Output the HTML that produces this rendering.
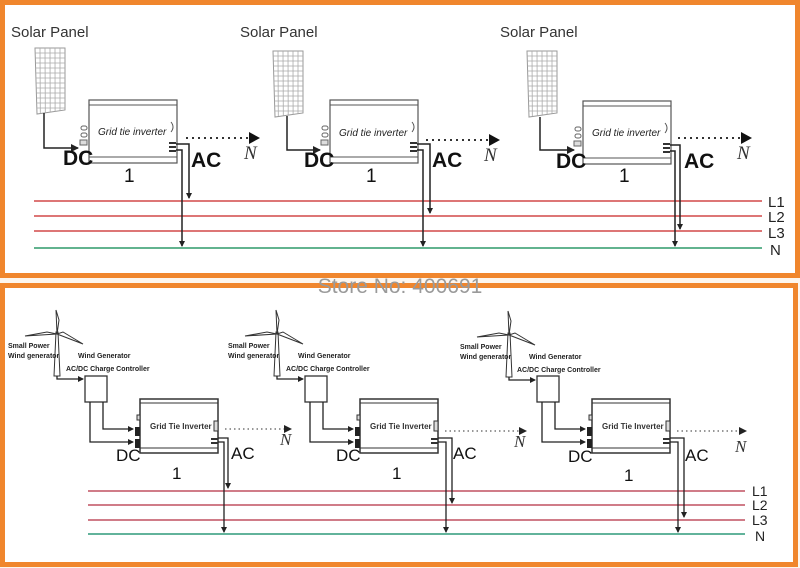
<!DOCTYPE html>
<html><head><meta charset="utf-8"><style>
html,body{margin:0;padding:0;background:#fff;}
svg{display:block;}
</style></head><body>
<svg width="800" height="568" viewBox="0 0 800 568" xmlns="http://www.w3.org/2000/svg" font-family="Liberation Sans, sans-serif">
<defs>
<marker id="ah" markerWidth="8" markerHeight="8" refX="7" refY="4" orient="auto" markerUnits="userSpaceOnUse"><path d="M0,0 L8,4 L0,8 z" fill="#222"/></marker>
<marker id="ahs" markerWidth="6" markerHeight="6" refX="5" refY="3" orient="auto" markerUnits="userSpaceOnUse"><path d="M0,0 L6,3 L0,6 z" fill="#222"/></marker>
<g id="panel">
  <path d="M0,0 L30,0 L30,62 L2,66 z" fill="#fff" stroke="#999" stroke-width="1"/>
  <g stroke="#aaa" stroke-width="0.8">
    <line x1="5" y1="0" x2="5.3" y2="65.3"/><line x1="10" y1="0" x2="10.3" y2="64.6"/><line x1="15" y1="0" x2="15.2" y2="63.9"/><line x1="20" y1="0" x2="20.1" y2="63.2"/><line x1="25" y1="0" x2="25" y2="62.6"/>
    <line x1="0.2" y1="5" x2="30" y2="5"/><line x1="0.3" y1="10" x2="30" y2="10"/><line x1="0.5" y1="15" x2="30" y2="15"/><line x1="0.6" y1="20" x2="30" y2="20"/><line x1="0.8" y1="25" x2="30" y2="25"/><line x1="0.9" y1="30" x2="30" y2="30"/><line x1="1" y1="35" x2="30" y2="35"/><line x1="1.1" y1="40" x2="30" y2="40"/><line x1="1.3" y1="45" x2="30" y2="45"/><line x1="1.4" y1="50" x2="30" y2="50"/><line x1="1.6" y1="55" x2="30" y2="55"/><line x1="1.8" y1="60" x2="30" y2="60"/>
  </g>
</g>
<g id="inv">
  <rect x="0" y="0" width="88" height="63" fill="#fff" stroke="#555" stroke-width="1.2"/>
  <line x1="0" y1="5" x2="88" y2="5" stroke="#555"/>
  <line x1="0" y1="57" x2="88" y2="57" stroke="#555"/>
  <path d="M82,22 q4,5 0,10" fill="none" stroke="#555"/>
  <rect x="-8" y="26" width="6" height="4" rx="2" fill="#fff" stroke="#666"/>
  <rect x="-8" y="33" width="6" height="4" rx="2" fill="#fff" stroke="#666"/>
  <rect x="-9" y="40" width="7" height="5" fill="#ddd" stroke="#666"/>
  <rect x="80" y="42" width="7" height="2" fill="#333"/><rect x="80" y="46" width="7" height="2" fill="#333"/><rect x="80" y="50" width="7" height="2" fill="#333"/>
</g>
<g id="turb">
  <path d="M-3,66 L-1,22 L1,22 L3,66 z" fill="#fff" stroke="#333"/>
  <path d="M0,24 L-1,0 L2,10 z" fill="#fff" stroke="#333"/>
  <path d="M0,24 L-32,26 L-10,22 z" fill="#fff" stroke="#333"/>
  <path d="M0,24 L26,34 L6,22 z" fill="#fff" stroke="#333"/>
</g>
<g id="winv">
  <rect x="0" y="0" width="78" height="54" fill="#fff" stroke="#333" stroke-width="1.5"/>
  <line x1="0" y1="4" x2="78" y2="4" stroke="#333"/>
  <line x1="0" y1="49" x2="78" y2="49" stroke="#333"/>
  <rect x="74" y="22" width="4" height="10" fill="#ddd" stroke="#333"/>
  <rect x="-3" y="16" width="3" height="5" fill="#ddd" stroke="#333"/>
  <rect x="-5" y="28" width="5" height="9" fill="#222"/>
  <rect x="-5" y="40" width="5" height="9" fill="#222"/>
  <rect x="71" y="39" width="7" height="2" fill="#333"/><rect x="71" y="43" width="7" height="2" fill="#333"/>
</g>
</defs>

<rect x="0" y="0" width="800" height="568" fill="#fdf6ee"/>
<rect x="2.5" y="2.5" width="795" height="273" fill="#fff" stroke="#f0862d" stroke-width="5"/>
<rect x="2.5" y="285.5" width="793" height="279" fill="#fff" stroke="#f0862d" stroke-width="5"/>
<text x="400" y="293" text-anchor="middle" font-size="21" fill="#9a9a9a">Store No: 400691</text>

<g stroke-width="1.6">
<line x1="34" y1="201" x2="762" y2="201" stroke="#d24848"/>
<line x1="34" y1="216" x2="762" y2="216" stroke="#d24848"/>
<line x1="34" y1="231" x2="762" y2="231" stroke="#d24848"/>
<line x1="34" y1="248" x2="762" y2="248" stroke="#2e9a6a"/>
</g>
<g font-size="15" fill="#222">
<text x="768" y="207">L1</text><text x="768" y="222">L2</text><text x="768" y="238">L3</text><text x="770" y="255">N</text>
</g>

<g font-size="15" fill="#333"><text x="11" y="37">Solar Panel</text><text x="240" y="37">Solar Panel</text><text x="500" y="37">Solar Panel</text></g>

<use href="#panel" x="35" y="48"/>
<use href="#panel" x="273" y="51"/>
<use href="#panel" x="527" y="51"/>
<use href="#inv" x="89" y="100"/>
<use href="#inv" x="330" y="100"/>
<use href="#inv" x="583" y="101"/>

<g fill="none" stroke="#222" stroke-width="1.5">
<path d="M44,113 V148 H78" marker-end="url(#ah)"/>
<path d="M287,116 V150 H320" marker-end="url(#ah)"/>
<path d="M540,117 V150 H574" marker-end="url(#ah)"/>
<path d="M176,144 H189 V198" marker-end="url(#ahs)"/>
<path d="M176,150 H182 V246" marker-end="url(#ahs)"/>
<path d="M417,144 H430 V213" marker-end="url(#ahs)"/>
<path d="M417,150 H423 V246" marker-end="url(#ahs)"/>
<path d="M670,145 H680 V229" marker-end="url(#ahs)"/>
<path d="M670,151 H675 V246" marker-end="url(#ahs)"/>
</g>
<g stroke="#333" stroke-width="2" stroke-dasharray="2,4" fill="none">
<line x1="186" y1="138" x2="250" y2="138"/><line x1="426" y1="140" x2="490" y2="140"/><line x1="678" y1="138" x2="742" y2="138"/>
</g>
<g fill="#111"><path d="M249,132 L260,138 L249,144z"/><path d="M489,134 L500,140 L489,146z"/><path d="M741,132 L752,138 L741,144z"/></g>
<g font-family="Liberation Serif, serif" font-style="italic" font-size="19" fill="#333">
<text x="244" y="159">N</text><text x="484" y="161">N</text><text x="737" y="159">N</text>
</g>
<g font-size="10" font-style="italic" fill="#222">
<text x="98" y="135">Grid tie inverter</text><text x="339" y="136">Grid tie inverter</text><text x="592" y="136">Grid tie inverter</text>
</g>
<g font-size="21" font-weight="bold" fill="#111">
<text x="63" y="165">DC</text><text x="191" y="167">AC</text>
<text x="304" y="167">DC</text><text x="432" y="167">AC</text>
<text x="556" y="168">DC</text><text x="684" y="168">AC</text>
</g>
<g font-size="19" fill="#111"><text x="124" y="182">1</text><text x="366" y="182">1</text><text x="619" y="182">1</text></g>

<g stroke-width="1.4">
<line x1="88" y1="491" x2="745" y2="491" stroke="#c05060"/>
<line x1="88" y1="505" x2="745" y2="505" stroke="#c05060"/>
<line x1="88" y1="520" x2="745" y2="520" stroke="#c05060"/>
<line x1="88" y1="534" x2="745" y2="534" stroke="#2e9a7a"/>
</g>
<g font-size="14" fill="#222">
<text x="752" y="496">L1</text><text x="752" y="510">L2</text><text x="752" y="525">L3</text><text x="755" y="541">N</text>
</g>

<use href="#turb" x="57" y="310"/>
<use href="#turb" x="277" y="310"/>
<use href="#turb" x="509" y="311"/>
<rect x="85" y="376" width="22" height="26" fill="#fff" stroke="#333" stroke-width="1.3"/>
<rect x="305" y="376" width="22" height="26" fill="#fff" stroke="#333" stroke-width="1.3"/>
<rect x="537" y="376" width="22" height="26" fill="#fff" stroke="#333" stroke-width="1.3"/>
<use href="#winv" x="140" y="399"/>
<use href="#winv" x="360" y="399"/>
<use href="#winv" x="592" y="399"/>

<g fill="none" stroke="#222" stroke-width="1.3">
<path d="M57,376 V379 H83" marker-end="url(#ahs)"/>
<path d="M277,376 V379 H303" marker-end="url(#ahs)"/>
<path d="M509,377 V380 H535" marker-end="url(#ahs)"/>
<path d="M90,402 V442 H133" marker-end="url(#ahs)"/>
<path d="M103,402 V429 H133" marker-end="url(#ahs)"/>
<path d="M310,402 V442 H353" marker-end="url(#ahs)"/>
<path d="M323,402 V429 H353" marker-end="url(#ahs)"/>
<path d="M542,402 V442 H585" marker-end="url(#ahs)"/>
<path d="M555,402 V429 H585" marker-end="url(#ahs)"/>
<path d="M218,438 H228 V488" marker-end="url(#ahs)"/>
<path d="M218,442 H224 V532" marker-end="url(#ahs)"/>
<path d="M438,438 H452 V503" marker-end="url(#ahs)"/>
<path d="M438,442 H446 V532" marker-end="url(#ahs)"/>
<path d="M670,438 H684 V517" marker-end="url(#ahs)"/>
<path d="M670,442 H678 V532" marker-end="url(#ahs)"/>
</g>
<g stroke="#777" stroke-width="1.5" stroke-dasharray="1.5,3" fill="none">
<line x1="225" y1="429" x2="285" y2="429"/><line x1="445" y1="431" x2="520" y2="431"/><line x1="677" y1="431" x2="740" y2="431"/>
</g>
<g fill="#222"><path d="M284,425 L292,429 L284,433z"/><path d="M519,427 L527,431 L519,435z"/><path d="M739,427 L747,431 L739,435z"/></g>
<g font-family="Liberation Serif, serif" font-style="italic" font-size="17" fill="#333">
<text x="280" y="445">N</text><text x="514" y="447">N</text><text x="735" y="452">N</text>
</g>
<g font-size="7" font-weight="bold" fill="#222">
<text x="8" y="348">Small Power</text><text x="8" y="358">Wind generator</text>
<text x="78" y="358">Wind Generator</text><text x="66" y="371">AC/DC Charge Controller</text>
<text x="228" y="348">Small Power</text><text x="228" y="358">Wind generator</text>
<text x="298" y="358">Wind Generator</text><text x="286" y="371">AC/DC Charge Controller</text>
<text x="460" y="349">Small Power</text><text x="460" y="359">Wind generator</text>
<text x="529" y="359">Wind Generator</text><text x="517" y="372">AC/DC Charge Controller</text>
</g>
<g font-size="8" font-weight="bold" fill="#333">
<text x="150" y="429">Grid Tie Inverter</text><text x="370" y="429">Grid Tie Inverter</text><text x="602" y="429">Grid Tie Inverter</text>
</g>
<g font-size="17" fill="#111">
<text x="116" y="461">DC</text><text x="231" y="459">AC</text>
<text x="336" y="461">DC</text><text x="453" y="459">AC</text>
<text x="568" y="462">DC</text><text x="685" y="461">AC</text>
</g>
<g font-size="17" fill="#111"><text x="172" y="479">1</text><text x="392" y="479">1</text><text x="624" y="481">1</text></g>
</svg>
</body></html>
